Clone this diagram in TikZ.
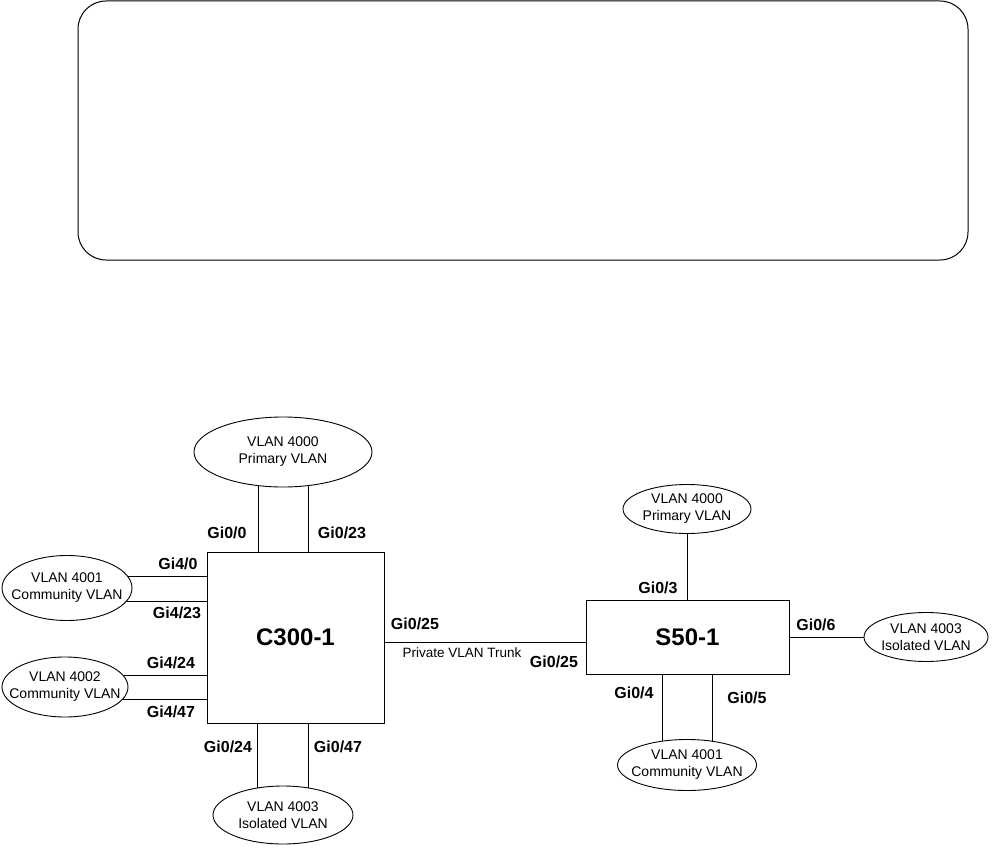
\documentclass[tikz,border=0pt]{standalone}
\usepackage{fontspec}
\setmainfont{Liberation Sans}
\usetikzlibrary{shapes.geometric,backgrounds}
\begin{document}
\begin{tikzpicture}[x=1pt,y=-1pt,line width=0.9pt,
  vlan/.style={ellipse,draw,fill=white,inner sep=0pt},
  vtext/.style={inner sep=0pt,align=center,font=\fontsize{14}{17}\selectfont},
  sw/.style={draw,fill=white,inner sep=0pt,font=\fontsize{24}{28}\bfseries\selectfont},
  port/.style={inner sep=0pt,font=\fontsize{16}{18}\bfseries\selectfont},
  link/.style={line width=0.9pt}]
\useasboundingbox (0,0) rectangle (993,848);
\node[draw,line width=1pt,rounded corners=28pt,minimum width=890pt,minimum height=259pt,inner sep=0pt] (frame) at (523,130.5) {};

% switches
\node[sw,minimum width=177pt,minimum height=171pt] (c300) at (295.5,637.5) {C300-1};
\node[sw,minimum width=203pt,minimum height=74pt] (s50) at (687.5,637) {S50-1};

% VLAN ellipses
\node[vlan,minimum width=178pt,minimum height=70pt] (p1) at (283,452) {};
\node[vlan,minimum width=130pt,minimum height=65pt] (c1) at (67,588) {};
\node[vlan,minimum width=126pt,minimum height=60pt] (c2) at (65,687) {};
\node[vlan,minimum width=140pt,minimum height=58pt] (i1) at (283,815) {};
\node[vlan,minimum width=128pt,minimum height=49pt] (sp) at (687,509) {};
\node[vlan,minimum width=124pt,minimum height=49pt] (si) at (926,637) {};
\node[vlan,minimum width=139pt,minimum height=51pt] (sc) at (687,765) {};
\node[vtext] (p1t) at (p1) {VLAN 4000\\Primary VLAN};
\node[vtext] (c1t) at (c1) {VLAN 4001\\Community VLAN};
\node[vtext] (c2t) at (c2) {VLAN 4002\\Community VLAN};
\node[vtext] (i1t) at (i1) {VLAN 4003\\Isolated VLAN};
\node[vtext] (spt) at (sp) {VLAN 4000\\Primary VLAN};
\node[vtext] (sit) at (si) {VLAN 4003\\Isolated VLAN};
\node[vtext] (sct) at (sc) {VLAN 4001\\Community VLAN};

% connectors
\begin{scope}[on background layer]
\draw[link] (c300.north -| 258,0) -- (p1.center -| 258,0);
\draw[link] (c300.north -| 308,0) -- (p1.center -| 308,0);
\draw[link] (c300.west |- 0,576) -- (c1.center |- 0,576);
\draw[link] (c300.west |- 0,601) -- (c1.center |- 0,601);
\draw[link] (c300.west |- 0,675) -- (c2.center |- 0,675);
\draw[link] (c300.west |- 0,699) -- (c2.center |- 0,699);
\draw[link] (c300.south -| 257,0) -- (i1.center -| 257,0);
\draw[link] (c300.south -| 308,0) -- (i1.center -| 308,0);
\draw[link] (c300.east |- 0,642) -- (s50.west |- 0,642);
\draw[link] (s50.north -| sp.center) -- (sp.center);
\draw[link] (s50.east |- si.center) -- (si.center);
\draw[link] (s50.south -| 662,0) -- (sc.center -| 662,0);
\draw[link] (s50.south -| 712,0) -- (sc.center -| 712,0);
\end{scope}

% port labels
\node[port] (l1) at (227,533) {Gi0/0};
\node[port] (l2) at (342,533) {Gi0/23};
\node[port] (l3) at (178,564) {Gi4/0};
\node[port] (l4) at (177,613) {Gi4/23};
\node[port] (l5) at (171,663) {Gi4/24};
\node[port] (l6) at (171,712) {Gi4/47};
\node[port] (l7) at (228,747) {Gi0/24};
\node[port] (l8) at (338,747) {Gi0/47};
\node[port] (l9) at (415,624) {Gi0/25};
\node[inner sep=0pt,font=\fontsize{13.5}{16}\selectfont] (trunk) at (462,653) {Private VLAN Trunk};
\node[port] (l10) at (554,662) {Gi0/25};
\node[port] (l11) at (658,588) {Gi0/3};
\node[port] (l12) at (816,625) {Gi0/6};
\node[port] (l13) at (634,693) {Gi0/4};
\node[port] (l14) at (747,698) {Gi0/5};
\end{tikzpicture}
\end{document}
